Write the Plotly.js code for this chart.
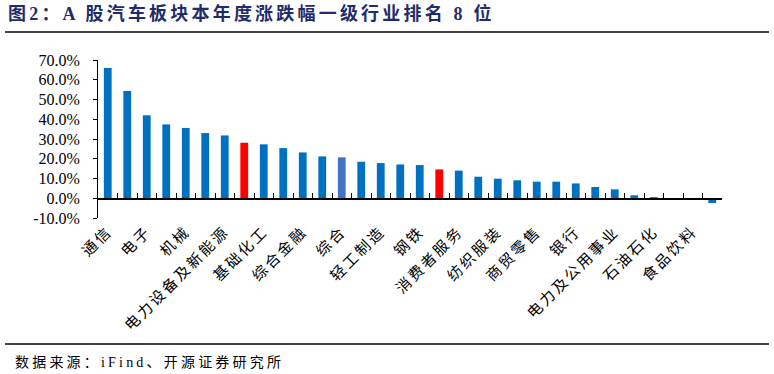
<!DOCTYPE html>
<html>
<head>
<meta charset="utf-8">
<script src="https://cdn.plot.ly/plotly-3.0.1.min.js"></script>
<style>
  html, body { margin: 0; padding: 0; background: #fff; }
  #chart { width: 774px; height: 374px; }
  .gtitle { letter-spacing: 3.2px; }
  .annotation-text { letter-spacing: 3.2px; }
  .xtick text { letter-spacing: 2.5px; }
</style>
</head>
<body>
<div id="chart"></div>
<script>
// ---- data ----
const categories = [
  '通信', '计算机', '电子', '传媒', '机械', '国防军工', '电力设备及新能源', '汽车',
  '基础化工', '有色金属', '综合金融', '建材', '综合', '非银行金融', '轻工制造', '家电',
  '钢铁', '沪深300', '消费者服务', '农林牧渔', '纺织服装', '建筑', '商贸零售', '交通运输',
  '银行', '房地产', '电力及公用事业', '医药', '石油石化', '上证指数', '食品饮料', '煤炭'
];
const values = [
  65.9, 54.3, 42.0, 37.4, 35.6, 33.0, 31.8, 28.1,
  27.3, 25.4, 23.2, 21.2, 20.7, 18.5, 17.8, 17.1,
  16.8, 14.6, 14.0, 10.9, 9.9, 9.1, 8.4, 8.4,
  7.5, 5.7, 4.5, 1.5, 0.6, 0.0, -0.9, -2.4
];
// only every other category name is printed on the axis
const tickLabels = [
  '通信', '', '电子', '', '机械', '', '电力设备及新能源', '',
  '基础化工', '', '综合金融', '', '综合', '', '轻工制造', '',
  '钢铁', '', '消费者服务', '', '纺织服装', '', '商贸零售', '',
  '银行', '', '电力及公用事业', '', '石油石化', '', '食品饮料', ''
];
const highlightRed = ['汽车', '沪深300'];
const highlightLight = ['综合'];
const yTickVals = [-10, 0, 10, 20, 30, 40, 50, 60, 70];

const titleText = '图2：A 股汽车板块本年度涨跌幅一级行业排名 8 位';
const sourceText = '数据来源：iFind、开源证券研究所';

// ---- styles ----
const W = 774, H = 374;
const M = { l: 98, r: 52, t: 60, b: 156 };
const PW = W - M.l - M.r, PH = H - M.t - M.b;
const px2x = p => (p - M.l) / PW;
const py2y = p => (H - M.b - p) / PH;

const BLUE = '#0070C0', RED = '#FF0000', LIGHT = '#4472C4';
const colors = categories.map(c =>
  highlightRed.includes(c) ? RED : (highlightLight.includes(c) ? LIGHT : BLUE));

const SERIF = '"Liberation Serif", "Times New Roman", "Noto Sans CJK SC", serif';
const yMin = -10, yMax = 70;
const zeroPos = (0 - yMin) / (yMax - yMin);

const trace = {
  type: 'bar',
  x: categories,
  y: values,
  marker: { color: colors, line: { width: 0 } },
  hoverinfo: 'x+y'
};

const layout = {
  width: W, height: H,
  margin: M,
  paper_bgcolor: '#fff',
  plot_bgcolor: '#fff',
  showlegend: false,
  bargap: 0.6,
  title: {
    text: titleText,
    xref: 'container', yref: 'container',
    x: 8 / W, xanchor: 'left',
    y: 1 - 14 / H, yanchor: 'middle',
    font: { family: SERIF, size: 18, weight: 'bold', color: '#1F2C6B' }
  },
  xaxis: {
    type: 'category',
    anchor: 'free',
    position: zeroPos,
    showline: true, linecolor: '#000', linewidth: 1.5,
    ticks: 'inside', ticklen: 5, tickwidth: 1, tickcolor: '#000',
    tickson: 'boundaries',
    tickmode: 'array',
    tickvals: categories,
    ticktext: tickLabels,
    tickangle: -45,
    ticklabelstandoff: 17,
    tickfont: { family: SERIF, size: 15, color: '#000' },
    showgrid: false, zeroline: false,
    fixedrange: true
  },
  yaxis: {
    range: [yMin, yMax],
    tickmode: 'array',
    tickvals: yTickVals,
    ticktext: yTickVals.map(v => v.toFixed(1) + '%'),
    showline: true, linecolor: '#000', linewidth: 1,
    ticks: 'outside', ticklen: 4, tickcolor: '#000',
    ticklabelstandoff: 10,
    tickfont: { family: SERIF, size: 16, color: '#000' },
    showgrid: false, zeroline: false,
    fixedrange: true
  },
  shapes: [
    { type: 'line', xref: 'paper', yref: 'paper',
      x0: px2x(5), x1: px2x(769), y0: py2y(32), y1: py2y(32),
      line: { color: '#000', width: 1.5 } },
    { type: 'line', xref: 'paper', yref: 'paper',
      x0: px2x(5), x1: px2x(769), y0: py2y(344), y1: py2y(344),
      line: { color: '#000', width: 1.5 } }
  ],
  annotations: [
    { text: sourceText, xref: 'paper', yref: 'paper',
      x: px2x(13), y: py2y(362), xanchor: 'left', yanchor: 'middle',
      showarrow: false,
      font: { family: SERIF, size: 14, color: '#000' } }
  ]
};

Plotly.newPlot('chart', [trace], layout, { displayModeBar: false, staticPlot: true });
</script>
</body>
</html>
